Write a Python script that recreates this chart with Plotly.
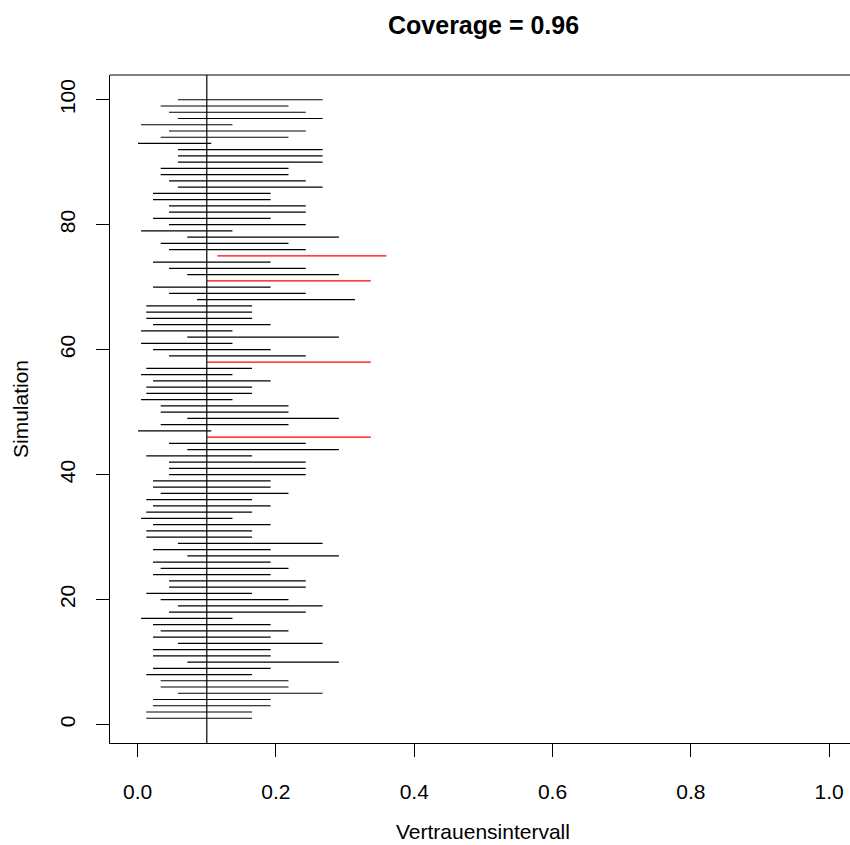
import plotly.graph_objects as go

# Simulation index (1..100)
simulation = list(range(1, 101))

# Lower / upper confidence limits (simulation 1..100)
lower = [
    0.0125, 0.0125, 0.0222, 0.0222, 0.0582, 0.0333, 0.0333, 0.0125, 0.0222, 0.0717,
    0.0222, 0.0222, 0.0582, 0.0222, 0.0333, 0.0222, 0.0049, 0.0453, 0.0582, 0.0333,
    0.0125, 0.0453, 0.0453, 0.0222, 0.0333, 0.0222, 0.0717, 0.0222, 0.0582, 0.0125,
    0.0125, 0.0222, 0.0049, 0.0125, 0.0222, 0.0125, 0.0333, 0.0222, 0.0222, 0.0453,
    0.0453, 0.0453, 0.0125, 0.0717, 0.0453, 0.1003, 0.0005, 0.0333, 0.0717, 0.0333,
    0.0333, 0.0049, 0.0125, 0.0125, 0.0222, 0.0049, 0.0125, 0.1003, 0.0453, 0.0222,
    0.0049, 0.0717, 0.0049, 0.0222, 0.0125, 0.0125, 0.0125, 0.0858, 0.0453, 0.0222,
    0.1003, 0.0717, 0.0453, 0.0222, 0.1153, 0.0453, 0.0333, 0.0717, 0.0049, 0.0453,
    0.0222, 0.0453, 0.0453, 0.0222, 0.0222, 0.0582, 0.0453, 0.0333, 0.0333, 0.0582,
    0.0582, 0.0582, 0.0005, 0.0333, 0.0453, 0.0049, 0.0582, 0.0453, 0.0333, 0.0582,
]
upper = [
    0.1655, 0.1655, 0.1923, 0.1923, 0.2674, 0.2181, 0.2181, 0.1655, 0.1923, 0.2911,
    0.1923, 0.1923, 0.2674, 0.1923, 0.2181, 0.1923, 0.1371, 0.2431, 0.2674, 0.2181,
    0.1655, 0.2431, 0.2431, 0.1923, 0.2181, 0.1923, 0.2911, 0.1923, 0.2674, 0.1655,
    0.1655, 0.1923, 0.1371, 0.1655, 0.1923, 0.1655, 0.2181, 0.1923, 0.1923, 0.2431,
    0.2431, 0.2431, 0.1655, 0.2911, 0.2431, 0.3372, 0.1065, 0.2181, 0.2911, 0.2181,
    0.2181, 0.1371, 0.1655, 0.1655, 0.1923, 0.1371, 0.1655, 0.3372, 0.2431, 0.1923,
    0.1371, 0.2911, 0.1371, 0.1923, 0.1655, 0.1655, 0.1655, 0.3144, 0.2431, 0.1923,
    0.3372, 0.2911, 0.2431, 0.1923, 0.3597, 0.2431, 0.2181, 0.2911, 0.1371, 0.2431,
    0.1923, 0.2431, 0.2431, 0.1923, 0.1923, 0.2674, 0.2431, 0.2181, 0.2181, 0.2674,
    0.2674, 0.2674, 0.1065, 0.2181, 0.2431, 0.1371, 0.2674, 0.2431, 0.2181, 0.2674,
]
true_value = 0.1
x_tick_vals = [0.0, 0.2, 0.4, 0.6, 0.8, 1.0]
x_tick_text = ["0.0", "0.2", "0.4", "0.6", "0.8", "1.0"]
y_tick_vals = [0, 20, 40, 60, 80, 100]

FONT = "Liberation Sans, Arial, Helvetica, sans-serif"

hit_x, hit_y, miss_x, miss_y = [], [], [], []
for s, lo, hi in zip(simulation, lower, upper):
    if lo <= true_value <= hi:
        hit_x += [lo, hi, None]
        hit_y += [s, s, None]
    else:
        miss_x += [lo, hi, None]
        miss_y += [s, s, None]
n_hit = sum(1 for lo, hi in zip(lower, upper) if lo <= true_value <= hi)
coverage = n_hit / len(simulation)

fig = go.Figure()
fig.add_trace(go.Scatter(x=hit_x, y=hit_y, mode="lines",
                         line=dict(color="black", width=1.2), hoverinfo="skip",
                         showlegend=False))
fig.add_trace(go.Scatter(x=miss_x, y=miss_y, mode="lines",
                         line=dict(color="#ff0000", width=1.2), hoverinfo="skip",
                         showlegend=False))

# vertical reference line at the true value
fig.add_shape(type="line", xref="x", yref="paper", x0=true_value, x1=true_value,
              y0=0, y1=1, line=dict(color="black", width=1.2))
# top border of the box
fig.add_shape(type="line", xref="paper", yref="paper", x0=0, x1=1, y0=1, y1=1,
              line=dict(color="black", width=1.2))

fig.update_layout(
    width=850, height=845,
    margin=dict(l=110, r=0, t=75, b=102),
    paper_bgcolor="white", plot_bgcolor="white",
    font=dict(family=FONT, size=21, color="black"),
    showlegend=False,
    xaxis=dict(range=[-0.04, 1.0302], tickvals=x_tick_vals, ticktext=x_tick_text,
               showgrid=False, zeroline=False, showline=True, linecolor="black",
               linewidth=1.2, ticks="outside", ticklen=13, tickcolor="black",
               tickwidth=1.2, ticklabelstandoff=17,
               tickfont=dict(family=FONT, size=21, color="black")),
    yaxis=dict(range=[-2.96, 103.96], tickvals=y_tick_vals,
               showgrid=False, zeroline=False, showline=True, linecolor="black",
               linewidth=1.2, ticks="outside", ticklen=13, tickcolor="black",
               tickwidth=1.2, tickangle=-90, ticklabelstandoff=13,
               tickfont=dict(family=FONT, size=21, color="black")),
    annotations=[
        dict(text="<b>Coverage = %.2f</b>" % coverage, xref="x", yref="paper",
             x=0.5, y=(743 - 25) / 668, xanchor="center", yanchor="middle",
             showarrow=False, font=dict(family=FONT, size=25, color="black")),
        dict(text="Vertrauensintervall", xref="x", yref="paper",
             x=0.5, y=(743 - 832) / 668, xanchor="center", yanchor="middle",
             showarrow=False, font=dict(family=FONT, size=21, color="black")),
        dict(text="Simulation", xref="paper", yref="paper",
             x=(20 - 110) / 740, y=0.5, xanchor="center", yanchor="middle",
             textangle=-90, showarrow=False,
             font=dict(family=FONT, size=21, color="black")),
    ],
)

# remove the default 8px page margin so the 850x845 figure fills the window
fig.write_html(
    "out.html",
    config={"displayModeBar": False},
    post_script="document.body.style.margin='0px';"
                "document.body.style.overflow='hidden';",
)
